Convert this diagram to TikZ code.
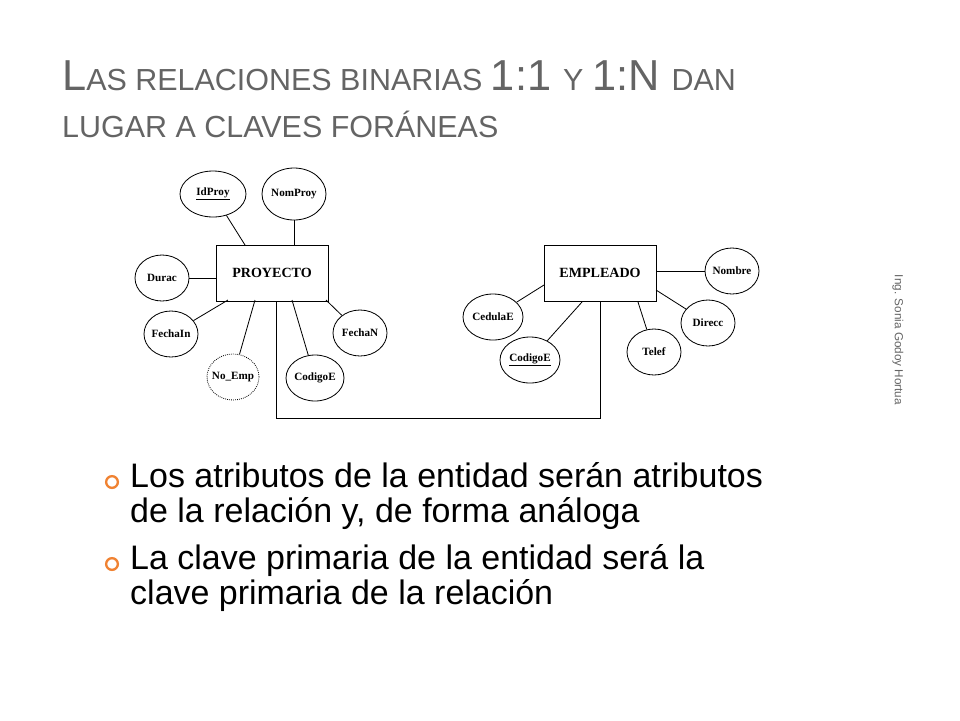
\documentclass[tikz,border=0pt]{standalone}
\usepackage{fontspec}
\setmainfont{Liberation Serif}
\newfontfamily\slidefont{Liberation Sans}
\usetikzlibrary{calc,shapes.geometric}
\definecolor{titlegray}{RGB}{100,100,100}
\definecolor{bulletorange}{RGB}{240,130,50}
\begin{document}
\begin{tikzpicture}[x=0.03cm,y=-0.03cm,
    entity/.style={draw, line width=0.8pt, minimum width=112*0.03cm,
        minimum height=56*0.03cm, font=\bfseries\fontsize{12}{14}\selectfont},
    attr/.style={draw, ellipse, line width=0.7pt, inner sep=-3pt,
        minimum width=54*0.03cm, minimum height=46*0.03cm, font=\bfseries\fontsize{9.5}{11}\selectfont},
    derived/.style={attr, densely dotted},
    link/.style={line width=0.7pt},
    bullet/.style={circle, draw=bulletorange, line width=2pt, minimum size=10pt, inner sep=0pt},
    para/.style={anchor=west, font=\slidefont\fontsize{29}{30}\selectfont, align=left, inner sep=0pt}]
  \useasboundingbox (0,0) rectangle (960,720);
  % title
  \node[anchor=base west, text=titlegray, font=\slidefont, inner sep=0pt] (title1) at (62,90)
    {\fontsize{37}{40}\selectfont L\fontsize{26}{40}\selectfont AS RELACIONES BINARIAS
     \fontsize{37}{40}\selectfont 1:1 \fontsize{26}{40}\selectfont Y
     \fontsize{37}{40}\selectfont 1:N \fontsize{26}{40}\selectfont DAN};
  \node[anchor=base west, text=titlegray, font=\slidefont\fontsize{26}{40}\selectfont, inner sep=0pt] (title2) at (62,137)
    {LUGAR A CLAVES FORÁNEAS};
  % side note
  \node[rotate=-90, text=titlegray, font=\slidefont\fontsize{10}{11}\selectfont] (author) at (898,340)
    {Ing. Sonia Godoy Hortua};
  % entities
  \node[entity] (proy) at (272,273) {PROYECTO};
  \node[entity] (emp) at (600,273) {EMPLEADO};
  % attributes of PROYECTO
  \node[attr, minimum width=66*0.03cm] (idproy) at (213,194) {\underline{IdProy}};
  \node[attr, minimum width=64*0.03cm, minimum height=52*0.03cm] (nomproy) at (294,194) {NomProy};
  \node[attr] (durac) at (162,278) {Durac};
  \node[attr] (fechain) at (171,334) {FechaIn};
  \node[derived, minimum width=52*0.03cm] (noemp) at (233,377) {No\_Emp};
  \node[attr, minimum width=58*0.03cm] (codigoep) at (315,378) {CodigoE};
  \node[attr] (fechan) at (360,333) {FechaN};
  % attributes of EMPLEADO
  \node[attr, minimum width=60*0.03cm] (cedula) at (493,317) {CedulaE};
  \node[attr, minimum width=60*0.03cm] (codigoe) at (530,360) {\underline{CodigoE}};
  \node[attr] (telef) at (654,352) {Telef};
  \node[attr] (direcc) at (708,323) {Direcc};
  \node[attr] (nombre) at (732,271) {Nombre};
  % links
  \draw[link] (idproy) -- (245,245);
  \draw[link] (nomproy) -- (proy.north -| nomproy);
  \draw[link] (durac) -- (durac -| proy.west);
  \draw[link] (fechain) -- (228,300);
  \draw[link] (noemp) -- (255,300);
  \draw[link] (codigoep) -- (292,300);
  \draw[link] (fechan) -- (326,300);
  \draw[link] (cedula) -- (544,285);
  \draw[link] (codigoe) -- (582,302);
  \draw[link] (telef) -- (638,302);
  \draw[link] (direcc) -- (656,290);
  \draw[link] (nombre) -- (nombre -| emp.east);
  \coordinate (low1) at (276,418);
  \coordinate (low2) at (600,418);
  \draw[link] (proy.south -| low1) -- (low1) -- (low2) -- (emp.south -| low2);
  % bullets
  \node[bullet] (b1) at (112,482) {};
  \node[para] (p1) at (130,496) {Los atributos de la entidad serán atributos\\de la relación y, de forma análoga};
  \node[bullet] (b2) at (112,564) {};
  \node[para] (p2) at (130,578) {La clave primaria de la entidad será la\\clave primaria de la relación};
\end{tikzpicture}
\end{document}
